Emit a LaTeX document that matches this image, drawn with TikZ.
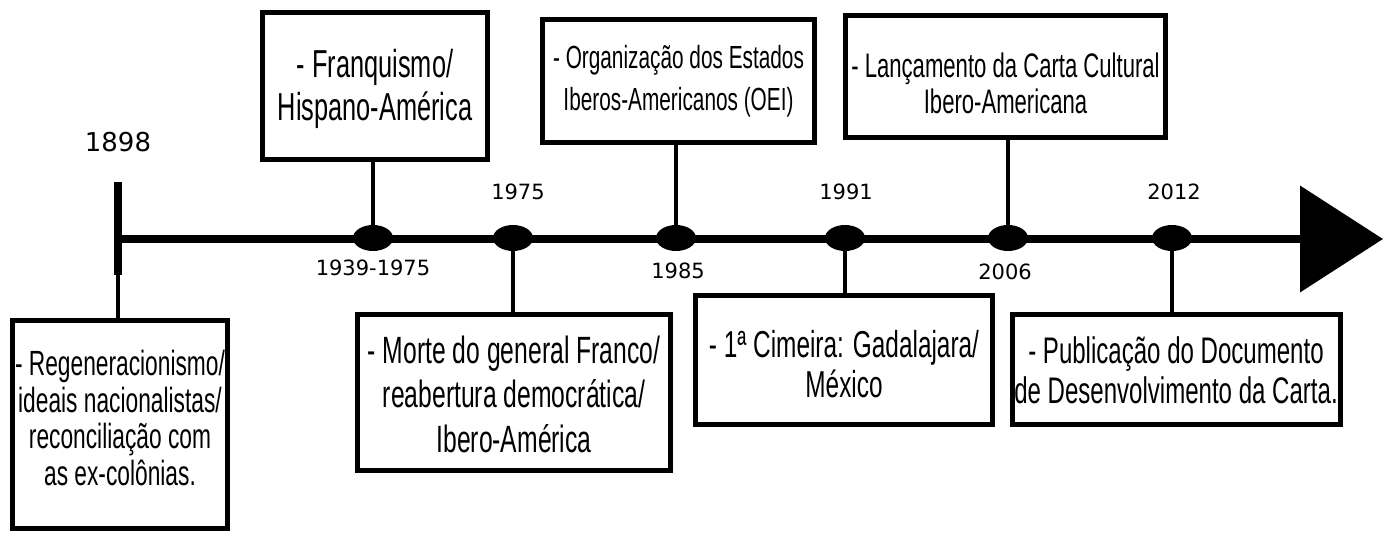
\documentclass[tikz,border=0pt]{standalone}
\usepackage{fontspec}
\usetikzlibrary{shapes.geometric,arrows.meta}
\newfontfamily\boxfont[FakeStretch=0.65]{Liberation Sans}
\newfontfamily\yearfont{DejaVu Sans}
\tikzset{
  box/.style={draw, line width=5pt, rectangle, inner sep=0pt},
  txt/.style={align=center, inner sep=0pt},
  event/.style={ellipse, fill=black, minimum width=40pt, minimum height=26pt, inner sep=0pt},
  conn/.style={line width=3.5pt},
  year/.style={inner sep=0pt, font=\yearfont\fontsize{21}{25}\selectfont},
}
\newcommand{\bfs}[2]{\boxfont\fontsize{#1}{#2}\selectfont}
\begin{document}
\begin{tikzpicture}[x=1pt, y=-1pt]
\useasboundingbox (0,0) rectangle (1391,534);
% axis
\coordinate (start) at (118,239);
\coordinate (end) at (1383,239);
\draw[line width=8pt, -{Triangle[length=83pt,width=105pt]}] (start) -- (end);
\node[fill=black, minimum width=8pt, minimum height=93pt, inner sep=0pt] (tick) at (118,228.5) {};
% events
\node[event] (e1) at (373,238) {};
\node[event] (e2) at (513,238) {};
\node[event] (e3) at (676,238) {};
\node[event] (e4) at (845,238) {};
\node[event] (e5) at (1008,238) {};
\node[event] (e6) at (1172,238) {};
% years
\node[year, font=\yearfont\fontsize{26}{30}\selectfont] (y1898) at (118,142) {1898};
\node[year] (y1939) at (373,268) {1939-1975};
\node[year] (y1975) at (518,192) {1975};
\node[year] (y1985) at (678,271) {1985};
\node[year] (y1991) at (846,192) {1991};
\node[year] (y2006) at (1005,272) {2006};
\node[year] (y2012) at (1174,192) {2012};
% boxes
\node[box, minimum width=215pt, minimum height=208pt] (b1) at (120,424.5) {};
\node[box, minimum width=225pt, minimum height=147pt] (b2) at (375,86) {};
\node[box, minimum width=313pt, minimum height=156pt] (b3) at (514,392.5) {};
\node[box, minimum width=272pt, minimum height=123pt] (b4) at (678.5,81) {};
\node[box, minimum width=297pt, minimum height=129pt] (b5) at (844,360) {};
\node[box, minimum width=320pt, minimum height=122pt] (b6) at (1005.5,76.5) {};
\node[box, minimum width=328pt, minimum height=110pt] (b7) at (1176.5,369.5) {};
% texts
\node[txt, font=\bfs{35}{36.7}] (t1) at (120,418) {- Regeneracionismo/\\ideais nacionalistas/\\reconciliação com\\as ex-colônias.};
\node[txt, font=\bfs{39}{43}] (t2) at (375,89) {- Franquismo/\\Hispano-América};
\node[txt, font=\bfs{38}{44.5}] (t3) at (514,394) {- Morte do general Franco/\\reabertura democrática/\\Ibero-América};
\node[txt, font=\bfs{32}{42}] (t4) at (678.5,81) {- Organização dos Estados\\Iberos-Americanos (OEI)};
\node[txt, font=\bfs{37.5}{40}] (t5) at (844,364) {- 1ª Cimeira: Gadalajara/\\México};
\node[txt, font=\bfs{34}{36}] (t6) at (1005.5,83.5) {- Lançamento da Carta Cultural\\Ibero-Americana};
\node[txt, font=\bfs{37}{40}] (t7) at (1176,370) {- Publicação do Documento\\de Desenvolvimento da Carta.};
% connectors
\draw[conn] (tick.south) -- (tick.south |- b1.north);
\draw[conn] (e1.center) -- (e1.center |- b2.south);
\draw[conn] (e2.center) -- (e2.center |- b3.north);
\draw[conn] (e3.center) -- (e3.center |- b4.south);
\draw[conn] (e4.center) -- (e4.center |- b5.north);
\draw[conn] (e5.center) -- (e5.center |- b6.south);
\draw[conn] (e6.center) -- (e6.center |- b7.north);
\end{tikzpicture}
\end{document}
